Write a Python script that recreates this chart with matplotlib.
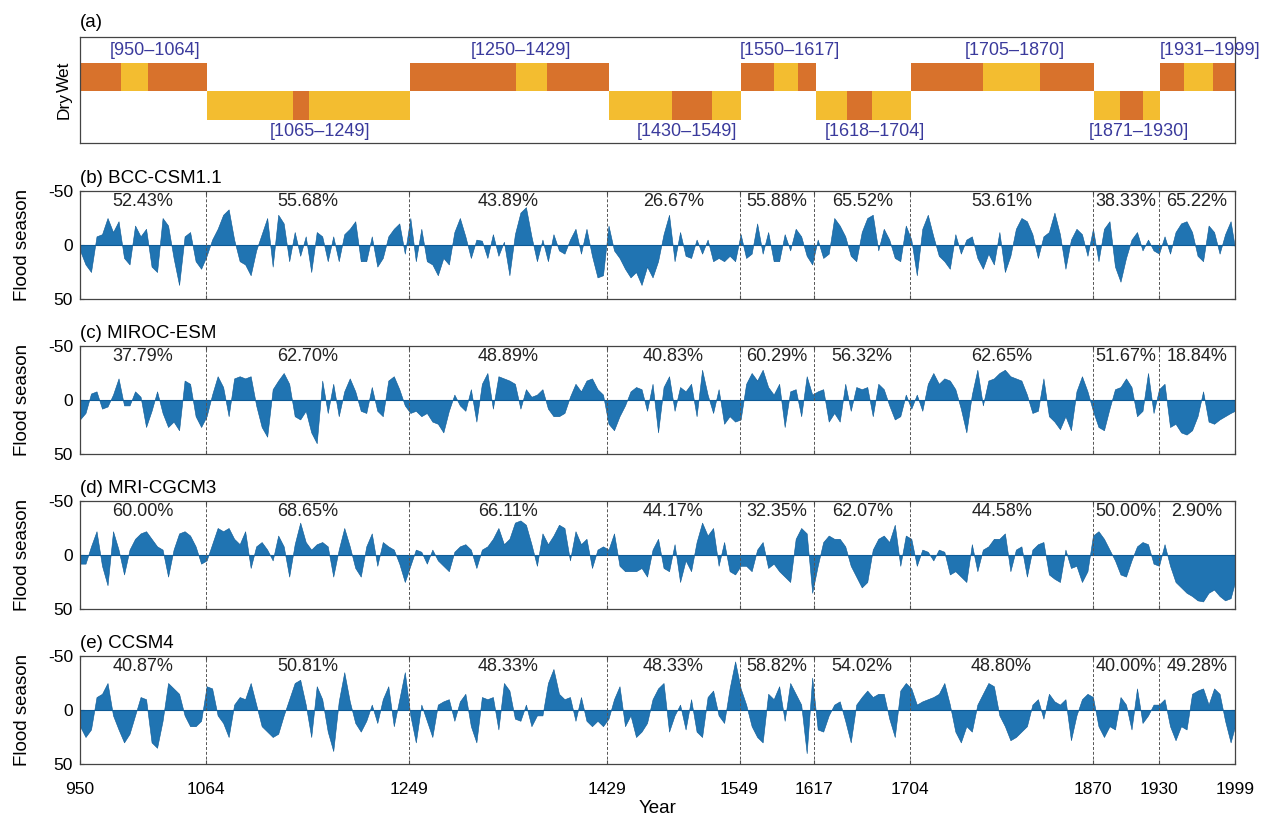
import numpy as np
import matplotlib.pyplot as plt

plt.rcParams['font.family'] = ['Liberation Sans', 'DejaVu Sans']

# period boundaries / x ticks
boundaries = [1064, 1249, 1429, 1549, 1617, 1704, 1870, 1930]
xticks = [950, 1064, 1249, 1429, 1549, 1617, 1704, 1870, 1930, 1999]

# panel (a): wet / dry periods and the contrasting inner segment of each
wet_periods = [(950, 1064), (1250, 1429), (1550, 1617), (1705, 1870), (1931, 1999)]
dry_periods = [(1065, 1249), (1430, 1549), (1618, 1704), (1871, 1930)]
wet_cores = [(987, 1012), (1346, 1374), (1580, 1602), (1770, 1822), (1953, 1979)]
dry_cores = [(1143, 1158), (1488, 1524), (1647, 1669), (1895, 1915)]

# sampled years (every 5 years, plus the last year)
years = np.append(np.arange(950, 1996, 5), 1999)

bcc = [
    5, 18, 25, -8, -10, -25, -12, -22, 12, 18,
    -18, -8, -15, 20, 25, -25, -18, 12, 37, -8,
    -12, 15, 22, 10, -5, -15, -28, -33, -5, 15,
    18, 28, 5, -10, -25, 20, -28, -20, 15, -12,
    10, -8, 25, -12, -8, 15, -8, 15, -10, -15,
    -22, 15, 15, -8, 20, 12, -8, -15, -20, 8,
    -25, 15, -15, 15, 18, 28, 12, 18, -12, -25,
    -8, 12, -5, -4, 12, -10, 10, -3, 28, -10,
    -30, -35, -8, 15, -5, 15, -10, 5, 8, -5,
    -15, 8, -15, 10, 30, 28, -18, 5, 12, 22,
    30, 25, 37, 20, 30, 15, -10, -28, 15, -12,
    10, 12, -5, 8, -5, 15, 12, 15, 10, 15,
    -10, 12, 8, -20, 8, -12, 15, 15, -10, 5,
    -15, -8, 10, 18, -5, 12, 8, -25, -18, -8,
    10, 15, -12, -25, -28, 5, -15, -5, 12, 15,
    -18, -5, 28, -15, -28, -8, 10, 15, 22, -10,
    8, -5, -8, 12, 22, 8, 18, -12, 25, 10,
    -15, -25, -22, -10, 12, -8, -12, -30, -10, 22,
    -5, -15, -10, 10, -15, 15, -15, -22, 20, 34,
    12, -5, -12, 5, -5, 5, 8, -8, 8, -12,
    -20, -22, -12, 10, 15, -18, -12, 8, -10, -22,
    3]

miroc = [
    18, 12, -6, -8, 8, 6, -5, -20, 5, 5,
    -8, -3, 25, 10, -8, 12, 25, 20, 28, -18,
    -15, 15, 25, 15, -5, -22, -12, 15, -20, -22,
    -20, -22, 5, 25, 34, -10, -18, -25, -15, 15,
    18, 10, 30, 40, -18, 12, -15, 15, -8, -20,
    -8, 10, 12, -12, 10, 15, -18, -22, -10, 5,
    12, 10, 15, 12, 20, 22, 30, 10, -5, 5,
    10, -10, 20, -15, -25, 8, -22, -20, -18, -15,
    8, -10, -3, -5, -10, 8, 15, 15, 12, -3,
    -15, -8, -18, -20, -10, -5, 22, 28, 15, 5,
    -8, -12, -10, 10, -15, 30, -12, -22, 10, -12,
    -8, -15, 15, -28, -5, 12, -10, 22, 15, 20,
    18, -15, -25, -18, -28, -12, -5, -15, 25, -8,
    -10, 15, -22, -5, -8, -10, 20, 12, 20, -15,
    10, -12, -10, -12, 15, -15, -10, 5, 18, 15,
    -5, 8, -5, 10, -15, -25, -15, -20, -18, -10,
    8, 30, -5, -28, 5, -18, -20, -25, -28, -22,
    -20, -18, -5, 12, 10, -20, 15, 20, 27, 15,
    28, -8, -22, -8, 10, 25, 28, 8, -10, -12,
    -20, -12, 15, 10, -25, 12, -10, -15, 25, 22,
    30, 32, 28, 15, -8, 20, 22, 18, 15, 12,
    10]

mri = [
    8, 8, -8, -22, 10, 28, -22, -5, 18, -5,
    -15, -20, -22, -15, -8, -5, 20, -5, -20, -22,
    -18, -8, 8, 5, -10, -25, -22, -25, -15, -10,
    -22, 12, -8, -12, -5, 5, -18, -8, 20, -10,
    -30, -12, -5, -10, -12, -8, 20, -5, -25, -8,
    12, 20, -8, -20, 10, -12, -8, -5, 8, 25,
    10, -5, -3, 8, -5, 5, 10, 15, -3, -8,
    -10, -5, 12, -5, -8, -15, -25, -10, -15, -30,
    -32, -28, -10, 10, -20, -10, -18, -28, -25, 5,
    -22, -10, -15, 12, -5, -8, -5, -20, 10, 15,
    15, 15, 12, 20, -5, -15, 12, 15, -10, 25,
    5, 15, -12, -30, -18, -25, 10, -12, 15, 18,
    10, 10, 15, -5, -12, 12, 8, 15, 20, 25,
    -15, -25, -20, 35, 10, -12, -18, -15, -15, -8,
    10, 20, 30, 25, -5, -15, -18, -12, -28, 10,
    -18, -15, 10, -5, -3, 5, -5, -3, 18, 15,
    20, 25, -10, 15, -5, -8, -15, -15, -20, 15,
    -5, -8, 20, -5, -10, -12, 18, 22, 25, -5,
    12, 10, 25, 15, -18, -22, -15, -5, 5, 18,
    20, 5, -8, -12, -10, 8, 10, -10, 10, 25,
    30, 35, 38, 42, 43, 35, 32, 38, 42, 40,
    25]

ccsm = [
    15, 25, 18, -12, -15, -25, 5, 18, 30, 22,
    5, -12, -10, 30, 35, 10, -25, -20, -15, 5,
    15, 15, 10, -22, -20, 5, 12, 25, -5, -12,
    -10, -25, -5, 15, 20, 25, 22, 5, -10, -25,
    -28, -5, 25, -22, -10, 20, 38, -8, -35, -8,
    12, 20, 10, -5, 12, -10, -22, 15, -10, -35,
    5, 30, -5, 10, 25, -5, -8, -10, 10, -8,
    -15, 15, 30, -12, -10, -12, 18, -25, -18, 8,
    10, -5, 15, 5, 5, -25, -38, -15, -10, -12,
    10, -12, 10, 15, 10, 15, 8, -10, -22, 15,
    5, 25, 20, 12, -10, -20, -25, 20, 5, -5,
    18, -10, 20, 25, -12, -18, 5, 12, -20, -45,
    -20, -5, 15, 25, 30, -15, -10, -22, 10, -25,
    -15, -5, 40, -30, 18, 20, 5, -5, -8, 10,
    30, -5, -12, -18, -12, -15, -15, 8, 25, -18,
    -25, -20, -5, -8, -10, -12, -15, -25, -5, 20,
    30, 15, 20, -5, -15, -25, -22, 5, 15, 28,
    25, 20, 15, -5, -10, 8, -15, -8, -5, -10,
    28, 5, -10, -15, -12, 15, 25, 15, 18, -12,
    -5, 18, -20, 12, 5, -5, -5, -10, 15, 28,
    15, 18, -15, -18, -20, -5, -20, -15, 10, 30,
    15]

bcc_pct = ["52.43%", "55.68%", "43.89%", "26.67%", "55.88%", "65.52%", "53.61%", "38.33%", "65.22%"]
miroc_pct = ["37.79%", "62.70%", "48.89%", "40.83%", "60.29%", "56.32%", "62.65%", "51.67%", "18.84%"]
mri_pct = ["60.00%", "68.65%", "66.11%", "44.17%", "32.35%", "62.07%", "44.58%", "50.00%", "2.90%"]
ccsm_pct = ["40.87%", "50.81%", "48.33%", "48.33%", "58.82%", "54.02%", "48.80%", "40.00%", "49.28%"]

models = ["(b) BCC-CSM1.1", "(c) MIROC-ESM", "(d) MRI-CGCM3", "(e) CCSM4"]
series = [bcc, miroc, mri, ccsm]
pcts = [bcc_pct, miroc_pct, mri_pct, ccsm_pct]

dark = "#d8722c"
light = "#f3bd30"
label_blue = "#3a3a9c"
fill_blue = "#2074b2"
frame = "#444444"
fs = 13.5
tfs = 12.5

W, H = 1276, 817
fig = plt.figure(figsize=(W / 100, H / 100), dpi=100)
left, right = 80, 1235


def px_axes(top, bottom):
    return fig.add_axes([left / W, 1 - bottom / H, (right - left) / W, (bottom - top) / H])


# ---- panel (a)
ax = px_axes(37, 143)
for (s, e), (cs, ce) in zip(wet_periods, wet_cores):
    ax.barh(1.5, e + 1 - s, left=s, height=1, color=dark, lw=0)
    ax.barh(1.5, ce - cs, left=cs, height=1, color=light, lw=0)
    ax.annotate(f"[{s}\u2013{e}]", ((s + e) / 2, 2.45), xytext=(9, 0), textcoords="offset points",
                ha="center", va="center", color=label_blue, fontsize=13)
for (s, e), (cs, ce) in zip(dry_periods, dry_cores):
    ax.barh(0.5, e + 1 - s, left=s, height=1, color=light, lw=0)
    ax.barh(0.5, ce - cs, left=cs, height=1, color=dark, lw=0)
    ax.annotate(f"[{s}\u2013{e}]", ((s + e) / 2, -0.4), xytext=(9, 0), textcoords="offset points",
                ha="center", va="center", color=label_blue, fontsize=13)
ax.set_xlim(950, 1999)
ax.set_ylim(-0.81, 2.91)
ax.set_xticks([])
ax.set_yticks([0.5, 1.5])
ax.set_yticklabels(["Dry", "Wet"], rotation=90, va="center", fontsize=12.5)
ax.tick_params(axis="y", length=0, pad=6)
for sp in ax.spines.values():
    sp.set_color(frame)
    sp.set_linewidth(0.9)
ax.set_title("(a)", loc="left", fontsize=fs, pad=7)

# ---- panels (b)-(e)
tops = [191, 346, 501, 656]
for i, (name, vals, pct, top) in enumerate(zip(models, series, pcts, tops)):
    ax = px_axes(top, top + 108)
    vals = np.array(vals, dtype=float)
    ax.fill_between(years, 0, vals, color=fill_blue, lw=0.4, edgecolor="#0d5a96")
    ax.axhline(0, color="#0d5a96", lw=0.8)
    for b in boundaries:
        ax.axvline(b, color="#555555", lw=0.7, ls=(0, (3, 2)))
    for j, p in enumerate(pct):
        ax.text((xticks[j] + xticks[j + 1]) / 2, -40, p, ha="center", va="center", fontsize=13, color="#222222")
    ax.set_xlim(950, 1999)
    ax.set_ylim(50, -50)
    ax.set_yticks([-50, 0, 50])
    ax.set_yticklabels(["-50", "0", "50"], fontsize=tfs)
    ax.set_xticks(xticks)
    if i == 3:
        ax.set_xticklabels([str(t) for t in xticks], fontsize=tfs)
        ax.set_xlabel("Year", fontsize=fs, labelpad=2)
    else:
        ax.set_xticklabels([])
    ax.tick_params(axis="y", direction="in", right=True, length=3, color=frame, pad=5)
    ax.tick_params(axis="x", direction="in", top=True, length=3, color=frame, pad=13)
    ax.set_ylabel("Flood season", fontsize=fs, labelpad=12)
    for sp in ax.spines.values():
        sp.set_color(frame)
        sp.set_linewidth(0.9)
    ax.set_title(name, loc="left", fontsize=fs, pad=6)

fig.savefig("out.png", dpi=100)
